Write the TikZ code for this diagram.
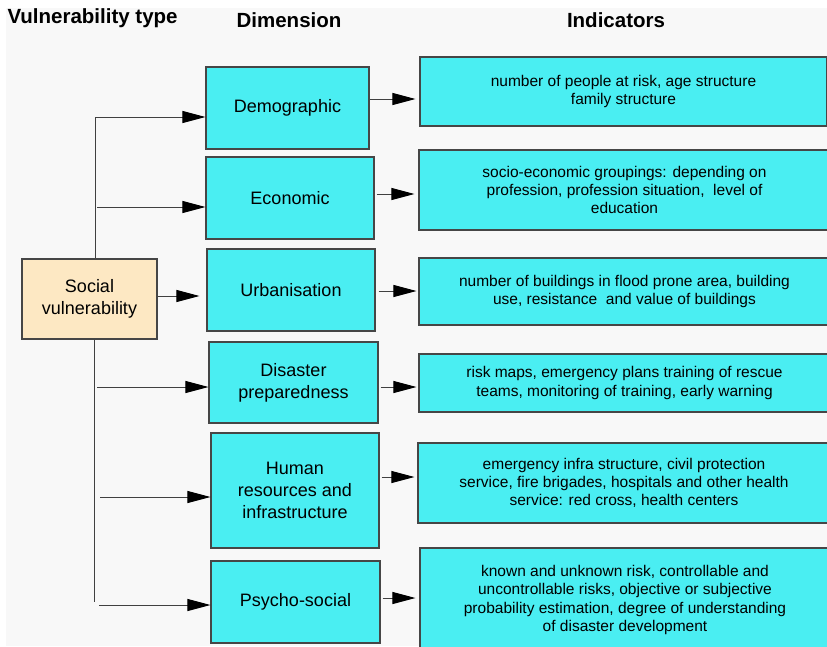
\documentclass[tikz,border=0pt]{standalone}
\usepackage{fontspec}
\setmainfont{Liberation Sans}
\usetikzlibrary{arrows.meta}
\definecolor{boxcyan}{RGB}{74,238,242}
\definecolor{boxorange}{RGB}{253,232,195}
\definecolor{bggray}{RGB}{248,248,248}
\definecolor{linegray}{RGB}{70,70,70}
\begin{document}
\begin{tikzpicture}[x=1pt,y=-1pt,
  dimbox/.style={draw=linegray,line width=1.1pt,fill=boxcyan,align=center,inner sep=0pt,font=\fontsize{18}{22}\selectfont},
  indbox/.style={dimbox,font=\fontsize{15.5}{18.3}\selectfont},
  trunk/.style={draw=black!75,line width=1pt},
  arr/.style={trunk,-{Triangle[length=23pt,width=12pt,fill=black,color=black]}},
  head/.style={font=\fontsize{20.5}{24}\selectfont\bfseries}]
\useasboundingbox (0,0) rectangle (827,646);
\fill[bggray] (6,8) rectangle (827,646);
\node[head,anchor=west] (hvt) at (4,18) {Vulnerability type};
\node[head] (hdim) at (289,20) {Dimension};
\node[head] (hind) at (616,20) {Indicators};
\node[dimbox,fill=boxorange,minimum width=135pt,minimum height=80pt] (soc) at (89.5,299) {Social\\vulnerability};
\node[dimbox,minimum width=163pt,minimum height=82pt] (dem) at (287.5,108) {Demographic};
\node[dimbox,minimum width=168pt,minimum height=82pt] (eco) at (290,198) {Economic};
\node[dimbox,minimum width=168pt,minimum height=82pt] (urb) at (291,290) {Urbanisation};
\node[dimbox,minimum width=169pt,minimum height=81pt] (dis) at (293.5,382.5) {Disaster\\preparedness};
\node[dimbox,minimum width=168pt,minimum height=115pt] (hum) at (295,490.5) {Human\\resources and\\infrastructure};
\node[dimbox,minimum width=169pt,minimum height=82pt] (psy) at (295.5,602) {Psycho-social};
\node[indbox,minimum width=407pt,minimum height=69pt] (idem) at (623.5,91.5) {number of people at risk, age structure\\family structure};
\node[indbox,minimum width=411pt,minimum height=80pt] (ieco) at (624.5,190) {socio-economic groupings: depending on\\profession, profession situation,\ \ level of\\education};
\node[indbox,minimum width=411pt,minimum height=67pt] (iurb) at (624.5,291.5) {number of buildings in flood prone area, building\\use, resistance\ \ and value of buildings};
\node[indbox,minimum width=411pt,minimum height=58pt] (idis) at (624.5,383) {risk maps, emergency plans training of rescue\\teams, monitoring of training, early warning};
\node[indbox,minimum width=412pt,minimum height=80pt] (ihum) at (624,483) {emergency infra structure, civil protection\\service, fire brigades, hospitals and other health\\service: red cross, health centers};
\node[indbox,minimum width=410pt,minimum height=104pt] (ipsy) at (625,600) {known and unknown risk, controllable and\\uncontrollable risks, objective or subjective\\probability estimation, degree of understanding\\of disaster development};
\coordinate (tt) at (95,117);
\coordinate (tb) at (94,602);
\coordinate (e2) at (97,207);
\coordinate (e4) at (97,387);
\coordinate (e5) at (100,497);
\coordinate (e6) at (99,605);
\draw[arr] (soc.north -| tt) -- (tt) -- (dem.west |- tt);
\draw[trunk] (soc.south -| tb) -- (tb);
\draw[arr] (e2) -- (eco.west |- e2);
\draw[arr,shorten >=7pt] ([yshift=3pt]soc.east) -- ([yshift=3pt]soc.east -| urb.west);
\draw[arr] (e4) -- (dis.west |- e4);
\draw[arr] (e5) -- (hum.west |- e5);
\draw[arr] (e6) -- (psy.west |- e6);
\draw[arr,shorten >=4pt] ([yshift=9pt]dem.east) -- ([yshift=9pt]dem.east -| idem.west);
\draw[arr,shorten <=2pt,shorten >=4pt] ([yshift=4pt]eco.east) -- ([yshift=4pt]eco.east -| ieco.west);
\draw[arr,shorten <=3pt,shorten >=2pt] ([yshift=-1pt]urb.east) -- ([yshift=-1pt]urb.east -| iurb.west);
\draw[arr,shorten <=2pt,shorten >=2pt] ([yshift=-4.5pt]dis.east) -- ([yshift=-4.5pt]dis.east -| idis.west);
\draw[arr,shorten <=2pt,shorten >=3pt] ([yshift=13.5pt]hum.east) -- ([yshift=13.5pt]hum.east -| ihum.west);
\draw[arr,shorten <=2pt,shorten >=4pt] ([yshift=4pt]psy.east) -- ([yshift=4pt]psy.east -| ipsy.west);
\end{tikzpicture}
\end{document}
